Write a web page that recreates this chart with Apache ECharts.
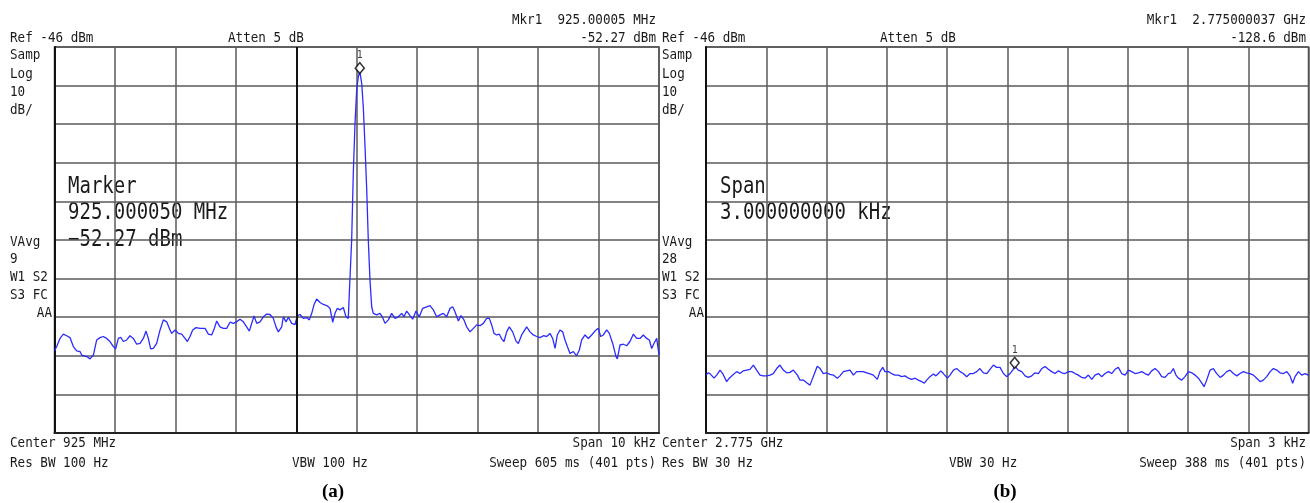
<!DOCTYPE html>
<html>
<head>
<meta charset="utf-8">
<script src="https://cdn.jsdelivr.net/npm/echarts@6/dist/echarts.min.js"></script>
<style>
  html, body { margin: 0; padding: 0; background: #fff; }
  #chart { width: 1310px; height: 503px; }
</style>
</head>
<body>
<div id="chart"></div>
<script>
// reference level and scale (both screens)
var REF_LEVEL = -46;      // dBm, top of screen
var DB_PER_DIV = 10;

// (a) 925 MHz, span 10 kHz -> offset from center in Hz, level in dBm
var leftFreq = [-5000, -4964, -4909, -4853, -4798, -4743, -4688, -4633, -4578, -4550, -4523, -4467, -4412, -4385, -4357,
  -4302, -4247, -4192, -4137, -4082, -4026, -3988, -3944, -3905, -3861, -3806, -3751, -3696, -3640, -3585, -3530,
  -3486, -3448, -3409, -3365, -3310, -3254, -3199, -3144, -3089, -3061, -3006, -2951, -2896, -2841, -2802, -2758,
  -2714, -2659, -2593, -2510, -2455, -2400, -2356, -2317, -2262, -2207, -2152, -2096, -2041, -1986, -1931, -1876,
  -1821, -1777, -1738, -1699, -1655, -1600, -1545, -1490, -1435, -1380, -1336, -1297, -1242, -1214, -1170, -1131,
  -1076, -1021, -983, -938, -883, -828, -784, -745, -707, -663, -608, -553, -497, -442, -398, -360, -321, -277,
  -222, -178, -140, -123, -84, -57, -29, -1, 26, 50, 82, 108, 137, 165, 191, 219, 247, 274, 330, 385, 423, 467,
  523, 578, 633, 688, 743, 782, 826, 881, 925, 980, 1035, 1091, 1157, 1212, 1267, 1322, 1377, 1432, 1488, 1543,
  1587, 1625, 1681, 1725, 1774, 1818, 1874, 1929, 1984, 2039, 2094, 2149, 2193, 2232, 2271, 2315, 2359, 2397,
  2436, 2480, 2524, 2579, 2635, 2673, 2728, 2811, 2866, 2921, 2976, 3032, 3087, 3142, 3197, 3241, 3280, 3318,
  3362, 3407, 3445, 3484, 3528, 3583, 3638, 3682, 3721, 3776, 3831, 3886, 3958, 3996, 4035, 4079, 4134, 4178,
  4234, 4289, 4311, 4355, 4410, 4465, 4520, 4575, 4631, 4686, 4741, 4796, 4840, 4879, 4917, 4962, 5000];
var leftLevel = [-124.7, -123.6, -121.5, -120.4, -120.8, -121.3, -123.6, -124.7, -124.9, -125.8, -125.4, -126.2, -126.8, -127.1, -125.8,
  -121.9, -121.3, -121.0, -121.5, -122.3, -123.6, -124.2, -121.5, -121.2, -122.3, -121.9, -120.8, -121.5, -123.0, -122.8, -121.5,
  -119.6, -121.5, -124.2, -124.1, -122.8, -119.3, -116.7, -117.2, -119.3, -120.2, -119.3, -120.2, -120.4, -121.5, -122.3, -121.0,
  -119.3, -118.7, -118.9, -118.9, -120.4, -120.6, -118.9, -117.0, -118.5, -118.9, -118.9, -117.3, -117.6, -117.2, -116.5, -117.2,
  -118.5, -119.6, -117.6, -115.7, -117.6, -117.2, -115.9, -115.2, -115.3, -116.3, -118.5, -119.8, -118.5, -115.9, -117.2, -116.0,
  -117.6, -117.9, -115.6, -115.3, -116.3, -116.1, -116.7, -115.0, -112.8, -111.3, -112.2, -112.7, -113.0, -113.7, -117.3, -115.0, -113.7, -114.1,
  -113.5, -115.9, -116.3, -109.8, -96.0, -78.7, -65.8, -57.1, -53.7, -52.27, -55.4, -61.5, -71.8, -83.0, -96.0, -106.4, -113.3, -115.0, -115.4, -115.0, -115.9, -117.6,
  -116.7, -115.0, -116.3, -115.9, -115.0, -115.9, -114.4, -115.6, -116.5, -114.4, -115.9, -113.7, -113.3, -113.0, -114.1, -115.9, -115.4, -115.0, -115.9, -113.7,
  -113.3, -114.6, -117.0, -115.6, -116.7, -118.5, -119.8, -118.9, -118.0, -118.2, -117.6, -116.3, -116.3, -118.0, -120.2, -120.6, -120.4, -121.6,
  -122.3, -119.8, -118.5, -119.8, -122.2, -122.8, -120.6, -118.5, -119.8, -120.6, -121.0, -121.3, -120.8, -121.0, -120.2, -121.5, -124.1, -120.6,
  -119.3, -119.8, -121.9, -123.6, -125.4, -124.9, -126.0, -124.5, -121.9, -120.6, -121.5, -120.6, -119.3, -118.9, -121.0, -120.6, -119.3, -120.2,
  -122.8, -126.2, -126.8, -123.2, -123.0, -123.4, -122.3, -120.4, -121.5, -121.5, -120.6, -121.5, -121.9, -124.1, -122.8, -121.5, -125.8];

// (b) 2.775 GHz, span 3 kHz
var rightFreq = [-1500, -1488, -1477, -1460, -1447, -1430, -1417, -1397, -1384, -1367, -1347, -1331, -1314, -1298, -1281,
  -1264, -1248, -1231, -1215, -1198, -1181, -1165, -1148, -1132, -1115, -1098, -1082, -1065, -1045, -1032, -1015,
  -999, -982, -966, -946, -932, -916, -899, -883, -866, -846, -833, -816, -800, -783, -766, -750, -733, -717, -700,
  -683, -667, -647, -634, -620, -609, -592, -576, -559, -542, -526, -509, -492, -476, -459, -443, -426, -413, -401,
  -385, -368, -355, -343, -331, -318, -298, -285, -268, -252, -235, -219, -202, -185, -169, -152, -136, -119, -102,
  -86, -69, -53, -36, -19, -3, 14, 30, 37, 55, 72, 89, 105, 122, 138, 155, 172, 188, 205, 221, 238, 255, 271, 288,
  304, 321, 338, 354, 371, 387, 404, 421, 437, 454, 470, 487, 504, 520, 537, 553, 570, 587, 603, 620, 636, 653,
  670, 686, 703, 719, 736, 753, 769, 786, 802, 814, 827, 840, 852, 869, 885, 902, 919, 935, 952, 968, 980, 993,
  1010, 1026, 1043, 1060, 1076, 1093, 1109, 1126, 1143, 1159, 1176, 1192, 1209, 1226, 1242, 1259, 1275, 1292,
  1309, 1325, 1342, 1358, 1375, 1392, 1408, 1421, 1433, 1450, 1466, 1483, 1500];
var rightLevel = [-131.0, -130.4, -130.8, -131.8, -131.0, -129.7, -130.6, -132.7, -131.8, -131.0, -130.1, -130.6, -129.9, -129.7, -129.5,
  -128.4, -129.7, -131.0, -131.2, -131.2, -131.0, -130.6, -129.3, -128.4, -129.7, -130.4, -130.3, -129.7, -131.0, -132.3, -132.3,
  -133.0, -133.6, -131.4, -128.7, -129.3, -130.6, -130.4, -130.8, -131.0, -131.8, -131.2, -130.1, -129.9, -129.7, -131.0, -130.1, -130.1, -130.1, -130.4,
  -130.7, -131.0, -132.1, -130.1, -129.0, -130.1, -130.1, -130.6, -131.0, -131.0, -131.4, -131.2, -131.8, -132.1, -131.8, -132.3, -132.7, -133.1, -132.3,
  -131.4, -130.7, -131.2, -130.6, -129.9, -130.6, -131.8, -131.0, -129.7, -129.3, -130.1, -130.6, -131.4, -130.6, -130.6, -130.1, -129.3, -130.4, -130.6,
  -129.5, -128.4, -129.0, -129.0, -130.6, -131.4, -130.6, -129.5, -128.6, -129.7, -130.1, -131.2, -131.6, -131.2, -130.4, -130.6, -129.3, -128.8, -129.5, -130.1, -130.6, -129.9, -130.4, -130.6,
  -130.1, -130.1, -130.6, -131.0, -131.6, -131.8, -131.0, -132.1, -131.0, -130.6, -131.4, -130.6, -130.1, -130.6, -129.5, -129.0, -130.6, -131.0, -129.7, -130.1, -130.6, -130.4,
  -130.1, -130.6, -131.0, -129.9, -129.3, -130.1, -131.4, -131.6, -130.6, -130.4, -129.3, -131.0, -131.8, -132.3, -131.4, -130.1, -130.4, -131.0, -131.8, -133.0, -134.0, -132.3,
  -129.7, -129.3, -130.6, -131.6, -131.0, -130.1, -129.7, -130.6, -131.2, -130.6, -130.1, -130.4, -130.6, -131.0, -131.8, -132.7, -132.3, -131.4,
  -130.1, -129.3, -129.7, -130.4, -130.6, -130.1, -131.2, -133.1, -131.4, -130.1, -131.0, -130.6, -131.0];

// markers: [freq offset Hz, level dBm]
var leftMarker = [50, -52.27];
var rightMarker = [37, -128.6];
// darker graticule line on screen (a)
var leftDarkLine = -1000;

// annotation text
var leftTop = ['Mkr1  925.00005 MHz', '-52.27 dBm', 'Ref -46 dBm', 'Atten 5 dB'];
var rightTop = ['Mkr1  2.775000037 GHz', '-128.6 dBm', 'Ref -46 dBm', 'Atten 5 dB'];
var leftSide = ['Samp', 'Log', '10', 'dB/', 'VAvg', '9', 'W1 S2', 'S3 FC', 'AA'];
var rightSide = ['Samp', 'Log', '10', 'dB/', 'VAvg', '28', 'W1 S2', 'S3 FC', 'AA'];
var leftBig = ['Marker', '925.000050 MHz', '\u221252.27 dBm'];
var rightBig = ['Span', '3.000000000 kHz'];
var leftBottom = ['Center 925 MHz', 'Span 10 kHz', 'Res BW 100 Hz', 'VBW 100 Hz', 'Sweep 605 ms (401 pts)'];
var rightBottom = ['Center 2.775 GHz', 'Span 3 kHz', 'Res BW 30 Hz', 'VBW 30 Hz', 'Sweep 388 ms (401 pts)'];
var captions = ['(a)', '(b)'];

var MONO = '"DejaVu Sans Mono", "Liberation Mono", monospace';

function pairs(xs, ys) {
  var out = [];
  for (var i = 0; i < xs.length; i++) out.push([xs[i], ys[i] - REF_LEVEL]);
  return out;
}

function txt(x, y, s, size, align, sy) {
  return {
    type: 'text', x: x, y: y, scaleY: sy || 1.15, silent: true,
    style: { text: s, font: size + 'px ' + MONO, fill: '#1a1a1a', textAlign: align || 'left', textVerticalAlign: 'middle' }
  };
}

function panelText(x0, x1, top, side, big, bottom, vbwX, attenX) {
  var g = [];
  g.push(txt(x1, 20, top[0], 12.6, 'right'));
  g.push(txt(x1, 38, top[1], 12.6, 'right'));
  g.push(txt(x0, 38, top[2], 12.6));
  g.push(txt(attenX, 38, top[3], 12.6));
  var sideY = [55, 74, 92, 110, 242, 259, 277, 295];
  for (var i = 0; i < 8; i++) g.push(txt(x0, sideY[i], side[i], 12.6));
  g.push(txt(x0 + 42, 313, side[8], 12.6, 'right'));
  var bigY = [187, 213, 240];
  for (var j = 0; j < big.length; j++) g.push(txt(x0 + 58, bigY[j], big[j], 19, 'left', 1.2));
  g.push(txt(x0, 443, bottom[0], 12.6));
  g.push(txt(x1, 443, bottom[1], 12.6, 'right'));
  g.push(txt(x0, 463, bottom[2], 12.6));
  g.push(txt(vbwX, 463, bottom[3], 12.6));
  g.push(txt(x1, 463, bottom[4], 12.6, 'right'));
  return g;
}

function markerSeries(idx, m) {
  return {
    type: 'scatter', xAxisIndex: idx, yAxisIndex: idx, silent: true, z: 5,
    data: [[m[0], m[1] - REF_LEVEL]],
    symbol: 'diamond', symbolSize: [9, 11], symbolOffset: [0, -3],
    itemStyle: { color: '#fff', borderColor: '#000', borderWidth: 1.5 },
    label: { show: true, position: 'top', distance: 1, formatter: '1', fontSize: 10, fontFamily: MONO, color: '#111' }
  };
}

function xAxisFor(idx, half, step) {
  return {
    type: 'value', gridIndex: idx, min: -half, max: half, interval: step,
    axisLabel: { show: false }, axisTick: { show: false },
    axisLine: { show: true, onZero: false, lineStyle: { color: '#222', width: 2 } },
    splitLine: { show: true, lineStyle: { color: '#5a5a5a', width: 1.5 } }
  };
}

function yAxisFor(idx) {
  return {
    type: 'value', gridIndex: idx, min: -10 * DB_PER_DIV, max: 0, interval: DB_PER_DIV,
    axisLabel: { show: false }, axisTick: { show: false },
    axisLine: { show: true, onZero: false, lineStyle: { color: '#111', width: 2 } },
    splitLine: { show: true, lineStyle: { color: '#5a5a5a', width: 1.5 } }
  };
}

var chart = echarts.init(document.getElementById('chart'));
var graphics = []
  .concat(panelText(10, 656, leftTop, leftSide, leftBig, leftBottom, 292, 228))
  .concat(panelText(662, 1306, rightTop, rightSide, rightBig, rightBottom, 949, 880));
graphics.push({ type: 'text', x: 333, y: 492, silent: true,
  style: { text: captions[0], font: 'bold 19px "Liberation Serif", "DejaVu Serif", serif', fill: '#000', textAlign: 'center', textVerticalAlign: 'middle' } });
graphics.push({ type: 'text', x: 1005, y: 492, silent: true,
  style: { text: captions[1], font: 'bold 19px "Liberation Serif", "DejaVu Serif", serif', fill: '#000', textAlign: 'center', textVerticalAlign: 'middle' } });

chart.setOption({
  animation: false,
  backgroundColor: '#fff',
  grid: [
    { left: 54.5, top: 47, width: 604.5, height: 386, show: true, borderColor: '#444', borderWidth: 1.5 },
    { left: 706, top: 47, width: 602.5, height: 386, show: true, borderColor: '#444', borderWidth: 1.5 }
  ],
  xAxis: [xAxisFor(0, 5000, 1000), xAxisFor(1, 1500, 300)],
  yAxis: [yAxisFor(0), yAxisFor(1)],
  series: [
    {
      type: 'line', xAxisIndex: 0, yAxisIndex: 0, data: pairs(leftFreq, leftLevel),
      showSymbol: false, silent: true, lineStyle: { color: '#2b2bff', width: 1.3 },
      markLine: {
        silent: true, symbol: 'none', label: { show: false },
        lineStyle: { color: '#111', width: 2, type: 'solid' },
        data: [{ xAxis: leftDarkLine }]
      }
    },
    {
      type: 'line', xAxisIndex: 1, yAxisIndex: 1, data: pairs(rightFreq, rightLevel),
      showSymbol: false, silent: true, lineStyle: { color: '#2b2bff', width: 1.3 }
    },
    markerSeries(0, leftMarker),
    markerSeries(1, rightMarker)
  ],
  graphic: graphics
});
</script>
</body>
</html>
